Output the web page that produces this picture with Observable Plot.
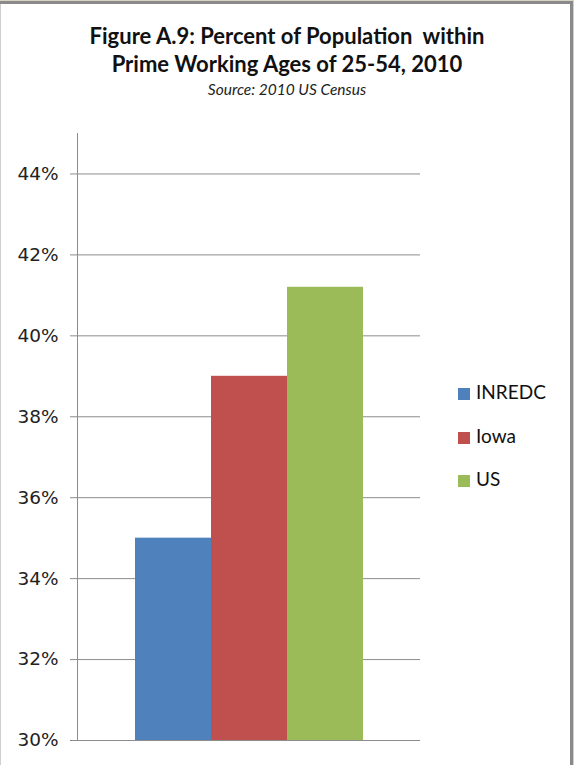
<!DOCTYPE html>
<html>
<head>
<meta charset="utf-8">
<script src="https://cdn.jsdelivr.net/npm/d3@7"></script>
<script src="https://cdn.jsdelivr.net/npm/@observablehq/plot@0.6"></script>
<style>
  html, body { margin: 0; padding: 0; background: #fff; }
  #wrap { position: relative; width: 574px; height: 765px; overflow: hidden; background: #fff; }
  #topbar { position: absolute; left: 0; top: 0; width: 574px; height: 1px; background: #d8d4c4; }
  #topbar2 { position: absolute; left: 0; top: 1px; width: 574px; height: 3px; background: #8a8a8a; }
  #leftbar { position: absolute; left: 0; top: 4px; width: 1px; height: 761px; background: #cfcfcf; }
  #rightbar { position: absolute; left: 570px; top: 1px; width: 3px; height: 764px; background: #8a8a8a; }
  #rightbar2 { position: absolute; left: 573px; top: 1px; width: 1px; height: 764px; background: #d0d0d0; }
  #title { position: absolute; left: 0; top: 22px; width: 574px; text-align: center;
           font-family: Lato, "Open Sans", sans-serif; font-weight: bold; font-size: 22px;
           line-height: 28px; color: #111; }
  #subtitle { position: absolute; left: 0; top: 80px; width: 574px; text-align: center;
              font-family: Lato, "Open Sans", sans-serif; font-style: italic; font-size: 15.5px; color: #222; }
  #chart { position: absolute; left: 0; top: 120px; }
  #legend { position: absolute; left: 458px; top: 380px; font-family: Lato, "Open Sans", sans-serif;
            font-size: 19px; color: #111; }
  .row { height: 43.5px; display: flex; align-items: flex-start; }
  .sw { width: 12px; height: 12px; margin-top: 8px; margin-right: 6px; }
</style>
</head>
<body>
<div id="wrap">
  <div id="topbar"></div><div id="topbar2"></div><div id="leftbar"></div>
  <div id="rightbar"></div><div id="rightbar2"></div>
  <div id="title">Figure A.9: Percent of Population&nbsp; within<br>Prime Working Ages of 25-54, 2010</div>
  <div id="subtitle">Source: 2010 US Census</div>
  <div id="chart"></div>
  <div id="legend"></div>
</div>
<script>
const categories = ["INREDC", "Iowa", "US"];
const values = [0.350, 0.390, 0.412];
const colors = ["#4F81BD", "#C0504D", "#9BBB59"];
const yTicks = [0.30, 0.32, 0.34, 0.36, 0.38, 0.40, 0.42, 0.44];

const data = categories.map((c, i) => ({category: c, value: values[i]}));

const chart = Plot.plot({
  width: 574,
  height: 645,
  marginTop: 13,
  marginBottom: 25,
  marginLeft: 77,
  marginRight: 154,
  style: {background: "transparent", fontFamily: "DejaVu Sans, sans-serif"},
  x: {domain: categories, paddingInner: 0, paddingOuter: 0.755, axis: null},
  y: {domain: [0.30, 0.45]},
  color: {domain: categories, range: colors},
  marks: [
    Plot.ruleY(yTicks, {stroke: "#8c8c8c", strokeWidth: 1}),
    Plot.barY(data, {x: "category", y1: 0.30, y2: "value", fill: "category", inset: 0}),
    Plot.axisY({ticks: yTicks, tickFormat: d3.format(".0%"), tickSize: 7, tickPadding: 12,
                stroke: "#8c8c8c", fill: "#222", fontSize: 18.5, label: null}),
    Plot.frame({anchor: "left", stroke: "#8c8c8c"})
  ]
});
document.getElementById("chart").appendChild(chart);

const legend = document.getElementById("legend");
categories.forEach((c, i) => {
  const row = document.createElement("div");
  row.className = "row";
  const sw = document.createElement("div");
  sw.className = "sw";
  sw.style.background = colors[i];
  const t = document.createElement("span");
  t.textContent = c;
  row.appendChild(sw);
  row.appendChild(t);
  legend.appendChild(row);
});
</script>
</body>
</html>
